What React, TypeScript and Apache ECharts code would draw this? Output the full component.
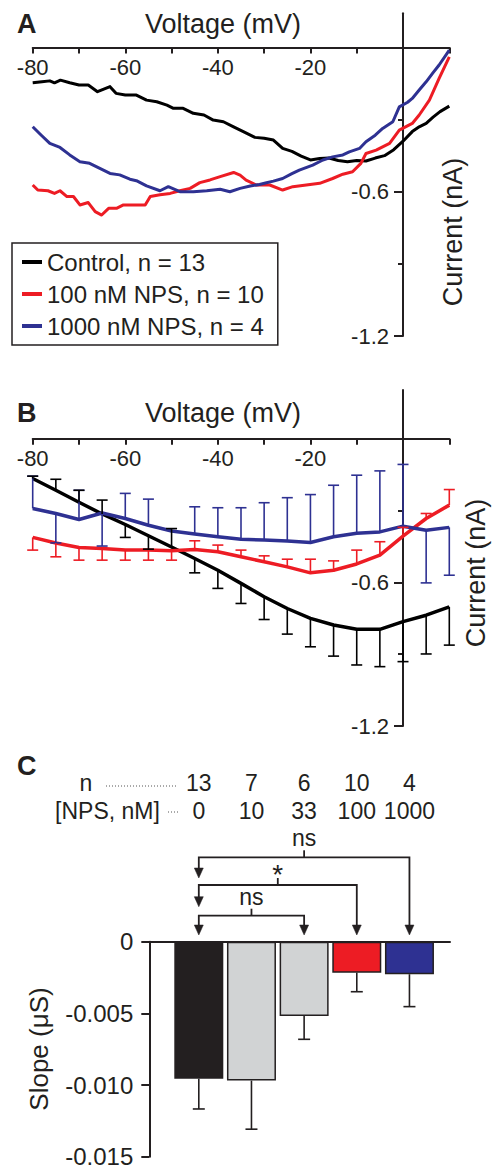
import React, { useEffect, useRef } from 'react';
import * as echarts from 'echarts';

const FONT = "'Liberation Sans', Arial, Helvetica, sans-serif";
const INK = '#231f20';
const RED = '#ed1c24';
const BLUE = '#2e3192';
const GRAY = '#d1d3d4';

// ---------- Panel A: continuous I-V traces [voltage mV, current nA] ----------
const controlA = [
  [-80, -0.147], [-78, -0.143], [-76.3, -0.139], [-75.3, -0.147], [-74, -0.136], [-72, -0.147],
  [-70, -0.156], [-68, -0.156], [-66, -0.184], [-63.3, -0.163], [-62, -0.191], [-60, -0.198],
  [-57.6, -0.198], [-55.4, -0.219], [-53.2, -0.226], [-51, -0.24], [-49.6, -0.253], [-47.5, -0.253],
  [-45.3, -0.274], [-43, -0.281], [-41, -0.302], [-38.8, -0.309], [-36.6, -0.33], [-34.5, -0.35],
  [-32, -0.374], [-30, -0.378], [-28, -0.385], [-26, -0.42], [-24, -0.432], [-22, -0.452],
  [-20, -0.468], [-18, -0.462], [-16, -0.46], [-14, -0.47], [-12, -0.475], [-10, -0.47],
  [-8, -0.472], [-6, -0.46], [-4, -0.45], [-2, -0.425], [0, -0.39], [2, -0.35], [3.5, -0.33],
  [5, -0.316], [6.5, -0.29], [8, -0.267], [10, -0.244],
];
const nps100A = [
  [-80, -0.572], [-78.9, -0.593], [-76.7, -0.596], [-75.3, -0.607], [-74.1, -0.596], [-72.6, -0.62],
  [-71.2, -0.62], [-69.8, -0.655], [-68, -0.645], [-66.5, -0.683], [-65.1, -0.697], [-63.6, -0.669],
  [-61.9, -0.669], [-60.4, -0.655], [-58.3, -0.655], [-55.7, -0.655], [-54.6, -0.62], [-52.5, -0.613],
  [-50.3, -0.607], [-48.2, -0.596], [-46, -0.586], [-43.9, -0.562], [-41.7, -0.551], [-39.5, -0.537],
  [-36.6, -0.52], [-35.2, -0.531], [-33.9, -0.552], [-31.7, -0.572], [-28.8, -0.572], [-26, -0.593],
  [-23.8, -0.579], [-20.9, -0.572], [-18, -0.565], [-15.2, -0.545], [-13, -0.527], [-10.9, -0.517],
  [-9.1, -0.482], [-8, -0.441], [-5.8, -0.427], [-2.9, -0.399], [-0.8, -0.344], [2, -0.316],
  [3.5, -0.281], [5.7, -0.219], [7.8, -0.129], [10, -0.039],
];
const nps1000A = [
  [-80, -0.33], [-78.2, -0.364], [-76.3, -0.399], [-74.1, -0.416], [-72, -0.447], [-69.8, -0.475],
  [-67.7, -0.482], [-65.5, -0.503], [-63.3, -0.524], [-61.2, -0.53], [-59, -0.548], [-57.6, -0.554],
  [-55.4, -0.576], [-52.5, -0.596], [-50.7, -0.579], [-48.2, -0.6], [-45.3, -0.6], [-42.4, -0.596],
  [-39.5, -0.59], [-37.4, -0.6], [-35.2, -0.586], [-33, -0.576], [-31, -0.57], [-29.5, -0.563],
  [-28, -0.556], [-26, -0.545], [-24, -0.525], [-22.4, -0.51], [-19.5, -0.489], [-17.3, -0.468],
  [-15.2, -0.455], [-13, -0.447], [-11.6, -0.434], [-9.4, -0.42], [-8, -0.392], [-6, -0.365],
  [-4.4, -0.337], [-2.2, -0.309], [-0.8, -0.247], [1, -0.228], [2, -0.212], [3.5, -0.177],
  [5, -0.143], [6.5, -0.105], [7.8, -0.073], [10, -0.011],
];
const legendNames = ['Control, n = 13', '100 nM NPS, n = 10', '1000 nM NPS, n = 4'];

// ---------- Panel B: step data every 5 mV, mean and error-bar end ----------
const voltB = [-80, -75, -70, -65, -60, -55, -50, -45, -40, -35, -30, -25, -20, -15, -10, -5, 0, 5, 10];
const controlB = [-0.166, -0.215, -0.265, -0.314, -0.358, -0.405, -0.452, -0.5, -0.549, -0.604, -0.66, -0.709, -0.75, -0.778, -0.796, -0.796, -0.764, -0.737, -0.702];
const controlBErr = [-0.156, -0.169, -0.215, -0.256, -0.412, -0.461, -0.375, -0.56, -0.625, -0.688, -0.755, -0.816, -0.869, -0.908, -0.945, -0.952, -0.931, -0.899, -0.862];
const nps100B = [-0.412, -0.435, -0.454, -0.458, -0.465, -0.465, -0.468, -0.462, -0.472, -0.493, -0.514, -0.535, -0.56, -0.549, -0.523, -0.486, -0.407, -0.333, -0.277];
const nps100BErr = [-0.465, -0.493, -0.507, -0.507, -0.507, -0.507, -0.507, -0.426, -0.444, -0.465, -0.489, -0.503, -0.503, -0.51, -0.465, -0.43, -0.37, -0.312, -0.212];
const nps1000B = [-0.291, -0.312, -0.337, -0.31, -0.333, -0.361, -0.385, -0.398, -0.409, -0.42, -0.423, -0.427, -0.433, -0.409, -0.395, -0.389, -0.365, -0.382, -0.37];
const nps1000BErr = [-0.156, -0.435, -0.215, -0.448, -0.228, -0.252, null, -0.284, -0.288, -0.288, -0.267, -0.246, -0.233, -0.194, -0.152, -0.134, -0.107, -0.602, -0.57];

// ---------- Panel C: slopes ----------
const nCounts = ['13', '7', '6', '10', '4'];
const npsConc = ['0', '10', '33', '100', '1000'];
const slopeMean = [-0.00957, -0.00969, -0.00518, -0.00216, -0.00227];
const slopeErrEnd = [-0.01167, -0.01308, -0.00681, -0.00349, -0.00453];
const barColors = [INK, GRAY, GRAY, RED, BLUE];
const comparisons = [
  { from: 0, to: 2, label: 'ns' },
  { from: 0, to: 3, label: '*' },
  { from: 0, to: 4, label: 'ns' },
];

const voltRange = [-80, 10];
const voltLabels = [-80, -60, -40, -20];
const currentMin = -1.2;
const currentMaxA = 0.142;
const currentMaxB = 0.204;
const currentMajorTicks = [-1.2, -0.6];
const currentMinorTicks = [-0.9, -0.3];
const currentLabels = [-1.2, -0.6];

const GRID_A = { left: 32.7, width: 416.6, top: 13.3, height: 322.7 };
const GRID_B = { left: 32.7, width: 416.6, top: 390, height: 336 };
const GRID_C = { left: 149.3, width: 300.7, top: 941.7, height: 215 };

const near = (a: number, b: number) => Math.abs(a - b) < 1e-9;

// axis crossing at zero, placed by offset from the grid edge
function voltAxis(gridIndex: number, gridHeight: number, yMax: number) {
  const zeroFromTop = (gridHeight * yMax) / (yMax - currentMin);
  return {
    type: 'value', gridIndex, min: voltRange[0], max: voltRange[1], interval: 10,
    position: 'top', offset: -zeroFromTop,
    axisLine: { show: true, onZero: false, lineStyle: { color: INK, width: 2 } },
    axisTick: { show: true, inside: true, length: 6, lineStyle: { color: INK, width: 2 } },
    axisLabel: {
      show: true, inside: true, margin: 9, fontSize: 22, color: INK, fontFamily: FONT,
      formatter: (v: number) => (voltLabels.some((l) => near(l, v)) ? String(v) : ''),
    },
    splitLine: { show: false },
  };
}

function currentAxis(gridIndex: number, gridWidth: number, max: number, major: boolean) {
  const zeroFromRight = (gridWidth * voltRange[1]) / (voltRange[1] - voltRange[0]);
  return {
    type: 'value', gridIndex, min: currentMin, max, interval: 0.3,
    position: 'right', offset: -zeroFromRight,
    axisLine: { show: major, onZero: false, lineStyle: { color: INK, width: 2 } },
    axisTick: {
      show: true, inside: true, length: major ? 9 : 5,
      customValues: major ? currentMajorTicks : currentMinorTicks,
      lineStyle: { color: INK, width: 2 },
    },
    axisLabel: {
      show: major, inside: true, margin: 14, fontSize: 22, color: INK, fontFamily: FONT, customValues: currentLabels,
      formatter: (v: number) => (currentLabels.some((l) => near(l, v)) ? v.toFixed(1) : ''),
    },
    splitLine: { show: false },
  };
}

function errSeries(name: string, xs: number[], means: number[], ends: (number | null)[], color: string,
  xi: number, yi: number, halfCap: number, lw: number) {
  return {
    type: 'custom', name, xAxisIndex: xi, yAxisIndex: yi, silent: true, z: 3,
    data: xs.map((x, i) => [x, means[i], ends[i]]).filter((d) => d[2] != null),
    encode: { x: 0, y: [1, 2] },
    renderItem: (_params: any, api: any) => {
      const p1 = api.coord([api.value(0), api.value(1)]);
      const p2 = api.coord([api.value(0), api.value(2)]);
      return {
        type: 'group',
        children: [
          { type: 'line', shape: { x1: p1[0], y1: p1[1], x2: p2[0], y2: p2[1] }, style: { stroke: color, lineWidth: lw } },
          { type: 'line', shape: { x1: p2[0] - halfCap, y1: p2[1], x2: p2[0] + halfCap, y2: p2[1] }, style: { stroke: color, lineWidth: lw } },
        ],
      };
    },
  };
}

function lineSeries(name: string, data: number[][], color: string, xi: number, yi: number, width: number) {
  return {
    type: 'line', name, data, xAxisIndex: xi, yAxisIndex: yi, symbol: 'none', showSymbol: false,
    smooth: false, silent: true, z: 2,
    lineStyle: { color, width, join: 'round' }, itemStyle: { color },
  };
}

function buildOption() {
  const g = (o: any) => ({ ...o, outerBoundsMode: 'none', containLabel: false });
  return {
    animation: false,
    backgroundColor: '#ffffff',
    textStyle: { fontFamily: FONT },
    grid: [g(GRID_A), g(GRID_B), g(GRID_C)],
    xAxis: [
      voltAxis(0, GRID_A.height, currentMaxA),
      voltAxis(1, GRID_B.height, currentMaxB),
      {
        type: 'value', gridIndex: 2, min: -0.94, max: 4.77, position: 'top',
        axisLine: { show: true, onZero: false, lineStyle: { color: INK, width: 2 } },
        axisTick: { show: false }, axisLabel: { show: false }, splitLine: { show: false },
      },
    ],
    yAxis: [
      currentAxis(0, GRID_A.width, currentMaxA, true),
      currentAxis(1, GRID_B.width, currentMaxB, true),
      {
        type: 'value', gridIndex: 2, min: -0.015, max: 0, interval: 0.005, position: 'left',
        axisLine: { show: true, onZero: false, lineStyle: { color: INK, width: 2 } },
        axisTick: { show: true, length: 8, lineStyle: { color: INK, width: 2 } },
        axisLabel: {
          show: true, margin: 16, fontSize: 24, color: INK, fontFamily: FONT,
          formatter: (v: number) => (near(v, 0) ? '0' : v.toFixed(3)),
        },
        splitLine: { show: false },
      },
      currentAxis(0, GRID_A.width, currentMaxA, false),
      currentAxis(1, GRID_B.width, currentMaxB, false),
    ],
    legend: {
      data: legendNames, orient: 'vertical', left: 12, top: 243,
      padding: [7, 14, 7, 10], itemGap: 8, itemWidth: 20, itemHeight: 4, icon: 'rect',
      borderColor: INK, borderWidth: 1.5, selectedMode: false,
      textStyle: { fontSize: 24, color: INK, fontFamily: FONT },
    },
    series: [
      lineSeries(legendNames[0], controlA, '#000000', 0, 0, 3),
      lineSeries(legendNames[1], nps100A, RED, 0, 0, 3),
      lineSeries(legendNames[2], nps1000A, BLUE, 0, 0, 3),

      lineSeries('Control (B)', voltB.map((v, i) => [v, controlB[i]]), '#000000', 1, 1, 3.5),
      lineSeries('100 nM NPS (B)', voltB.map((v, i) => [v, nps100B[i]]), RED, 1, 1, 3.5),
      lineSeries('1000 nM NPS (B)', voltB.map((v, i) => [v, nps1000B[i]]), BLUE, 1, 1, 3.5),
      errSeries('1000 nM NPS err', voltB, nps1000B, nps1000BErr, BLUE, 1, 1, 5.5, 1.6),
      errSeries('Control err', voltB, controlB, controlBErr, '#000000', 1, 1, 5.5, 1.6),
      errSeries('100 nM NPS err', voltB, nps100B, nps100BErr, RED, 1, 1, 5.5, 1.6),

      {
        type: 'bar', name: 'Slope', xAxisIndex: 2, yAxisIndex: 2, barWidth: 49, silent: true, z: 2,
        data: slopeMean.map((v, i) => ({
          value: [i, v],
          itemStyle: { color: barColors[i], borderColor: INK, borderWidth: 1.5 },
        })),
      },
      errSeries('Slope err', slopeMean.map((_, i) => i), slopeMean, slopeErrEnd, INK, 2, 2, 6, 1.6),
    ],
  };
}

function txt(text: string, x: number, y: number, size: number, opts: any = {}) {
  return {
    type: 'text', x, y, rotation: opts.rotation || 0, silent: true, z: 10,
    style: {
      text, fontSize: size, fontWeight: opts.bold ? 'bold' : 'normal', fontFamily: FONT,
      fill: INK, align: opts.align || 'center', verticalAlign: 'middle',
    },
  };
}

function buildGraphics(chart: any) {
  const px = (i: number) => chart.convertToPixel({ xAxisIndex: 2 }, i) as number;
  const py = (v: number) => chart.convertToPixel({ yAxisIndex: 2 }, v) as number;
  const els: any[] = [
    txt('A', 17, 24, 27, { bold: true, align: 'left' }),
    txt('Voltage (mV)', 223, 24, 27),
    txt('Current (nA)', 453, 232, 27, { rotation: Math.PI / 2 }),
    txt('B', 17, 413, 27, { bold: true, align: 'left' }),
    txt('Voltage (mV)', 223, 413, 27),
    txt('Current (nA)', 476, 573, 27, { rotation: Math.PI / 2 }),
    txt('C', 17, 766, 27, { bold: true, align: 'left' }),
    txt('n', 86, 783, 23),
    txt('[NPS, nM]', 107.5, 811, 23),
    { type: 'line', silent: true, shape: { x1: 106, y1: 786, x2: 178, y2: 786 }, style: { stroke: '#555', lineWidth: 1, lineDash: [1, 2] } },
    { type: 'line', silent: true, shape: { x1: 168, y1: 812, x2: 178, y2: 812 }, style: { stroke: '#555', lineWidth: 1, lineDash: [1, 2] } },
    txt('Slope (μS)', 39, 1049, 26, { rotation: Math.PI / 2 }),
  ];
  nCounts.forEach((n, i) => {
    els.push(txt(n, px(i), 783, 23));
    els.push(txt(npsConc[i], px(i), 811, 23));
  });

  const zeroY = py(0);
  const tipY = zeroY - 6.7;
  const ah = 10;
  const aw = 4.5;
  const arrow = (x: number, y: number) => ({
    type: 'polygon', silent: true,
    shape: { points: [[x - aw, y - ah], [x + aw, y - ah], [x, y]] },
    style: { fill: INK, stroke: INK, lineWidth: 0.5 },
  });
  // bracket layout: horizontal level and left-arrow tip for each comparison (stacked)
  const layout = [
    { hy: zeroY - 26, leftTip: tipY },
    { hy: zeroY - 56.7, leftTip: zeroY - 35 },
    { hy: zeroY - 84.4, leftTip: zeroY - 63.7 },
  ];
  comparisons.forEach((c, k) => {
    const x0 = px(c.from);
    const x1 = px(c.to);
    const { hy, leftTip } = layout[k];
    const xm = (x0 + x1) / 2;
    els.push({
      type: 'polyline', silent: true,
      shape: { points: [[x0, leftTip - ah + 1], [x0, hy], [x1, hy], [x1, tipY - ah + 1]] },
      style: { stroke: INK, lineWidth: 1.8, fill: null },
    });
    els.push(arrow(x0, leftTip));
    els.push(arrow(x1, tipY));
    els.push({ type: 'line', silent: true, shape: { x1: xm, y1: hy, x2: xm, y2: hy - 7 }, style: { stroke: INK, lineWidth: 1.8 } });
    if (c.label === '*') els.push(txt('*', xm, hy - 11, 28));
    else els.push(txt(c.label, xm, hy - 19, 23));
  });
  return els;
}

export default function App() {
  const ref = useRef<HTMLDivElement>(null);
  useEffect(() => {
    document.body.style.margin = '0';
    const chart = echarts.init(ref.current as HTMLDivElement, undefined, { renderer: 'svg' });
    chart.setOption(buildOption() as any);
    chart.setOption({ graphic: { elements: buildGraphics(chart) } } as any);
    return () => chart.dispose();
  }, []);
  return <div ref={ref} style={{ width: 492, height: 1170 }} />;
}
